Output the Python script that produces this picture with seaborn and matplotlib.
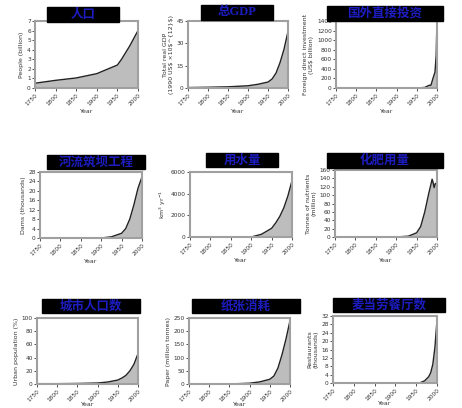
import matplotlib
matplotlib.use("Agg")
import matplotlib.pyplot as plt
import seaborn as sns
import pandas as pd
from matplotlib.patches import Rectangle

sns.set_style("ticks")
plt.rcParams["font.family"] = ["DejaVu Sans", "Noto Sans CJK SC"]

# values (estimated)
pop_years = [1750, 1800, 1850, 1900, 1950, 1960, 1970, 1980, 1990, 2000]
pop_vals = [0.5, 0.8, 1.05, 1.5, 2.4, 3.0, 3.7, 4.4, 5.2, 6.0]

gdp_years = [1750, 1800, 1850, 1900, 1925, 1950, 1960, 1970, 1980, 1990, 2000]
gdp_vals = [0.3, 0.5, 0.8, 1.5, 2.5, 4.0, 6.0, 10.0, 17.0, 26.0, 38.0]

fdi_years = [1950, 1960, 1970, 1980, 1985, 1990, 1995, 1998, 1999, 2000]
fdi_vals = [0, 5, 13, 55, 58, 200, 330, 690, 1080, 1390]

dam_years = [1900, 1925, 1950, 1960, 1970, 1980, 1990, 2000]
dam_vals = [0, 0.5, 2.0, 4.0, 8.0, 14.0, 21.0, 26.0]

water_years = [1900, 1925, 1950, 1960, 1970, 1980, 1990, 2000]
water_vals = [0, 250, 800, 1300, 1900, 2700, 3800, 5200]

fert_years = [1900, 1930, 1950, 1960, 1970, 1980, 1985, 1988, 1990, 1993, 1996, 2000]
fert_vals = [0, 2, 10, 25, 60, 105, 125, 138, 132, 118, 128, 126]

urban_years = [1750, 1800, 1850, 1900, 1925, 1950, 1960, 1970, 1980, 1990, 2000]
urban_vals = [0.5, 0.5, 0.8, 1.5, 3, 6, 9, 13, 20, 30, 46]

paper_years = [1850, 1900, 1925, 1950, 1960, 1970, 1980, 1990, 2000]
paper_vals = [0, 3, 8, 18, 30, 60, 110, 170, 240]

mcd_years = [1955, 1960, 1970, 1980, 1985, 1990, 1995, 2000]
mcd_vals = [0, 0.2, 1, 3, 5, 9, 17, 30]

titles = ["人口", "总GDP", "国外直接投资", "河流筑坝工程", "用水量", "化肥用量",
          "城市人口数", "纸张消耗", "麦当劳餐厅数"]
ylabels = ["People (billion)",
           "Total real GDP\n(1990 US$ ×10$^{12}$)",
           "Foreign direct investment\n(US$ billion)",
           "Dams (thousands)",
           "km$^3$ yr$^{-1}$",
           "Tonnes of nutrients\n(million)",
           "Urban population (%)",
           "Paper (million tonnes)",
           "Restaurants\n(thousands)"]
yticks = [list(range(0, 8)),
          [0, 15, 30, 45],
          list(range(0, 1401, 200)),
          list(range(0, 29, 4)),
          [0, 2000, 4000, 6000],
          list(range(0, 161, 20)),
          list(range(0, 101, 20)),
          list(range(0, 251, 50)),
          list(range(0, 33, 4))]
series = [(pop_years, pop_vals), (gdp_years, gdp_vals), (fdi_years, fdi_vals),
          (dam_years, dam_vals), (water_years, water_vals), (fert_years, fert_vals),
          (urban_years, urban_vals), (paper_years, paper_vals), (mcd_years, mcd_vals)]

W, H = 462, 408
# axes boxes in pixels: left, top, right, bottom
boxes = [(35, 21, 138, 88), (188, 21, 288, 88), (336, 21, 437, 88),
         (40, 172, 142, 238), (190, 172, 292, 237), (335, 170, 437, 237),
         (37, 318, 138, 384), (189, 318, 290, 384), (333, 316, 437, 383)]
# title boxes in pixels
tboxes = [(47, 7, 119, 22), (201, 5, 273, 20), (327, 6, 443, 21),
          (47, 155, 145, 169), (206, 153, 278, 167), (327, 153, 443, 168),
          (42, 299, 140, 313), (192, 299, 300, 313), (333, 298, 445, 312)]

fig = plt.figure(figsize=(W / 100, H / 100), dpi=100)

for i in range(9):
    l, t, r, b = boxes[i]
    ax = fig.add_axes([l / W, 1 - b / H, (r - l) / W, (b - t) / H])
    yrs, vals = series[i]
    df = pd.DataFrame({"Year": yrs, "value": vals})
    ax.fill_between(df["Year"], df["value"], color="#bdbdbd", lw=0)
    sns.lineplot(data=df, x="Year", y="value", ax=ax, color="#222222", lw=1.0)
    ax.set_xlim(1750, 2000)
    ax.set_ylim(0, yticks[i][-1])
    ax.set_xticks(range(1750, 2001, 50))
    ax.set_yticks(yticks[i])
    ax.tick_params(labelsize=4.2, length=2, width=0.6, colors="#333333", pad=1)
    for lab in ax.get_xticklabels():
        lab.set_rotation(45)
        lab.set_ha("right")
        lab.set_rotation_mode("anchor")
    for sp in ax.spines.values():
        sp.set_color("#a0a0a0")
        sp.set_linewidth(1.5)
    # bottom row: keep the "Year" label inside the picture
    ax.set_xlabel("Year", fontsize=4.5, color="#333333", labelpad=2 if i < 6 else 0)
    ax.set_ylabel(ylabels[i], fontsize=4.5, color="#333333", labelpad=2)

    x0, y0, x1, y1 = tboxes[i]
    fig.add_artist(Rectangle((x0 / W, 1 - y1 / H), (x1 - x0) / W, (y1 - y0) / H,
                             transform=fig.transFigure, color="black", zorder=5))
    fam = ["Liberation Serif", "Noto Sans CJK SC"] if i == 1 else ["Noto Sans CJK SC", "DejaVu Sans"]
    fig.text((x0 + x1) / 2 / W, 1 - (y0 + y1) / 2 / H, titles[i], ha="center",
             va="center", color="#1c1cc0", fontsize=9, fontweight="bold",
             family=fam, zorder=6)

plt.savefig("out.png", dpi=100)
